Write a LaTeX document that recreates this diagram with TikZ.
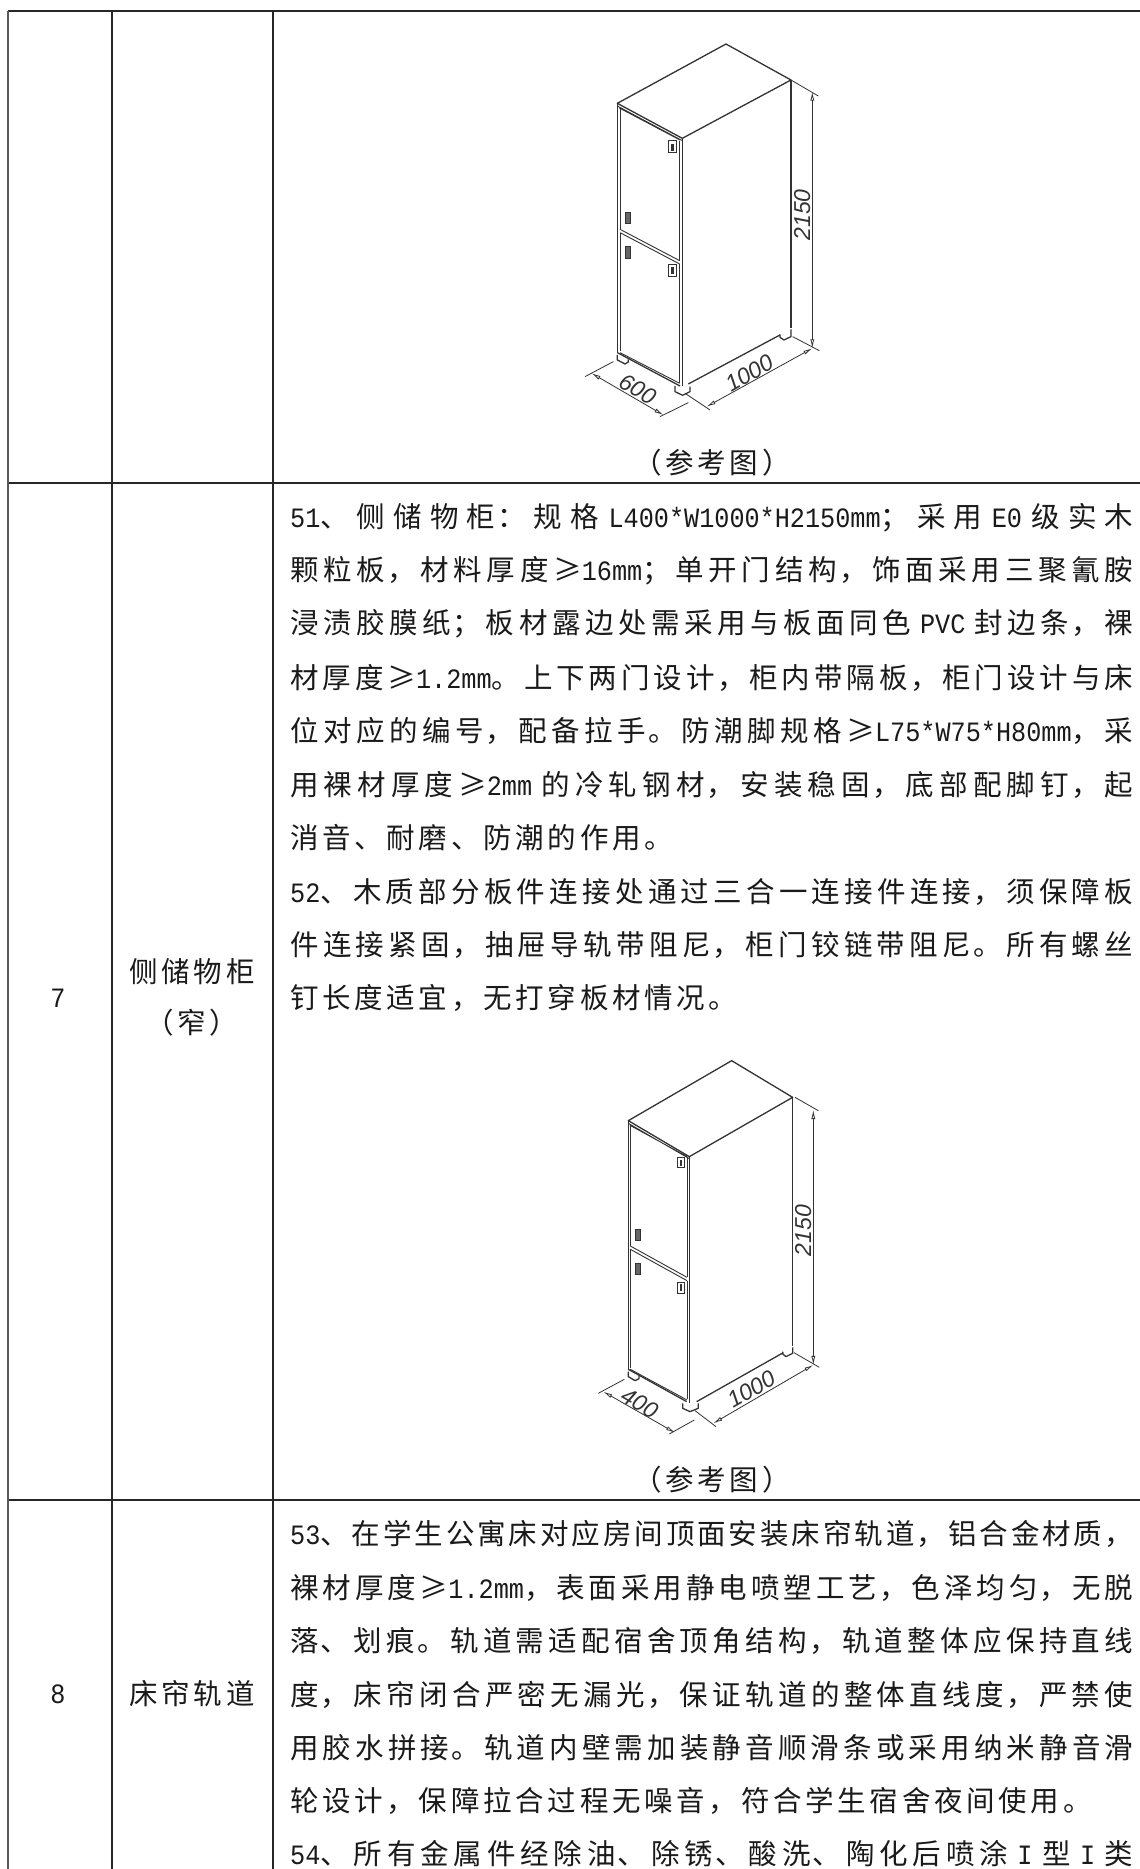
\documentclass[tikz,border=0pt]{standalone}
\usepackage{fontspec}
\usetikzlibrary{arrows.meta}
\setmainfont{Liberation Serif}
\newfontfamily\cjk[LetterSpace=8]{Noto Sans CJK SC}
\newfontfamily\cjkw[LetterSpace=13]{Noto Sans CJK SC}
\newfontfamily\ltn[FakeStretch=0.9]{Liberation Mono}
\newfontfamily\dimf{Liberation Sans}
\newcommand{\lt}[1]{{\fontsize{28}{30}\ltn #1}}
\newcommand{\jl}[1]{\parindent=0pt\leftskip=0pt\rightskip=0pt\tolerance=9999\pretolerance=-1\hbadness=10000\hfuzz=20pt\XeTeXlinebreaklocale "zh"\XeTeXlinebreakskip=0pt plus 6pt minus 1pt\parfillskip=0pt #1\par}
\definecolor{ink}{HTML}{1A1A1A}
\definecolor{cab}{HTML}{333333}
\tikzset{
 rule/.style={line width=1.5pt,color=black!85},
 edgeline/.style={line width=2.6pt,color=black!65},
 jline/.style={inner sep=0pt,anchor=west,text width=843pt,font=\fontsize{28.5}{30}\cjk,text=ink},
 nline/.style={inner sep=0pt,anchor=west,font=\fontsize{28.5}{30}\cjkw,text=ink},
 ctext/.style={inner sep=0pt,anchor=center,font=\fontsize{28.5}{30}\cjkw,text=ink},
 cabl/.style={line width=1.3pt,color=cab,line join=round},
 cabt/.style={line width=.9pt,color=cab},
 dimline/.style={line width=.8pt,color=cab,{Latex[open,length=9pt,width=4pt]}-{Latex[open,length=9pt,width=4pt]}},
 dimext/.style={line width=.8pt,color=cab},
 dimtext/.style={inner sep=0pt,font=\fontsize{23}{26}\dimf\itshape,text=cab},
 handle/.style={draw=cab,line width=.8pt,fill=cab!75},
}
\begin{document}
\begin{tikzpicture}[x=1pt,y=-1pt]
\useasboundingbox (0,0) rectangle (1140,1869);
\fill[white] (0,0) rectangle (1140,1869);
% table rules
\coordinate (tl) at (8,11); \coordinate (tr) at (1140,11);
\coordinate (al) at (8,483); \coordinate (ar) at (1140,483);
\coordinate (bl) at (8,1500); \coordinate (br) at (1140,1500);
\coordinate (el) at (8,1869);
\coordinate (c2t) at (112,11); \coordinate (c2b) at (112,1869);
\coordinate (c3t) at (273,11); \coordinate (c3b) at (273,1869);
\draw[rule] (tl)--(tr); \draw[rule] (al)--(ar); \draw[rule] (bl)--(br);
\draw[edgeline] (tl)--(el);
\draw[rule] (c2t)--(c2b); \draw[rule] (c3t)--(c3b);

% cabinet 1
\begin{scope}[shift={(560,20)},x=.3333pt,y=-.3333pt]
\draw[cabl] (172,250)--(498,72)--(693,180)--(367,355)--cycle;
\draw[cabl] (172,250)--(172,1000); \draw[cabl] (367,355)--(367,1098); \draw[cabl] (693,180)--(693,925);
\draw[cabl] (385,1092)--(660,945);
\draw[cabl] (172,998)--(360,1098);
\draw[cabt] (180,268)--(180,628) (180,638)--(180,992) (359,362)--(359,722) (359,732)--(359,1088);
\draw[cabt] (178,264)--(360,360) (172,258)--(367,362);
\draw[cabt] (180,628)--(359,722) (180,638)--(359,732);
\draw[cabt] (180,998)--(359,1090);
\draw[handle,fill=white] (326,362) rectangle (348,398); \fill[cab] (333,372) rectangle (341,392);
\draw[handle] (195,578) rectangle (212,610);
\draw[handle] (195,680) rectangle (212,714);
\draw[handle,fill=white] (326,733) rectangle (348,770); \fill[cab] (333,740) rectangle (341,762);
\draw[cabl] (172,1005)--(172,1020)--(195,1032)--(205,1026)--(205,1018);
\draw[cabl] (345,1098)--(345,1115)--(368,1126)--(390,1115)--(390,1100);
\draw[cabl] (660,943)--(660,952)--(672,960)--(693,950)--(693,928);
% dims
\coordinate (d1a) at (757,215); \coordinate (d1b) at (757,985);
\draw[dimline] (d1a)--(d1b);
\draw[dimext] (693,180)--(775,228) (698,950)--(778,992);
\node[dimtext,rotate=90] (t2150a) at (727,585) {2150};
\coordinate (d2a) at (440,1160); \coordinate (d2b) at (757,985);
\draw[dimline] (d2a)--(d2b);
\draw[dimext] (375,1120)--(450,1170);
\node[dimtext,rotate=30] (t1000a) at (568,1060) {1000};
\coordinate (d3a) at (95,1060); \coordinate (d3b) at (310,1185);
\draw[dimline] (d3a)--(d3b);
\draw[dimext] (75,1070)--(160,1025) (300,1190)--(385,1148);
\node[dimtext,rotate=-30] (t600) at (235,1108) {600};
\end{scope}

% cabinet 2
\begin{scope}[shift={(570,1040)},x=.3333pt,y=-.3333pt]
\draw[cabl] (175,242)--(485,62)--(668,172)--(358,350)--cycle;
\draw[cabl] (175,242)--(175,990); \draw[cabl] (358,350)--(358,1088); \draw[cabl] (668,172)--(668,918);
\draw[cabl] (380,1085)--(640,938);
\draw[cabl] (175,988)--(350,1085);
\draw[cabt] (181,258)--(181,618) (181,628)--(181,984) (351,350)--(351,712) (351,722)--(351,1078);
\draw[cabt] (180,256)--(352,350) (175,250)--(358,356);
\draw[cabt] (181,618)--(351,712) (181,628)--(351,722);
\draw[cabt] (181,988)--(351,1080);
\draw[handle,fill=white] (322,352) rectangle (342,382); \fill[cab] (329,360) rectangle (336,378);
\draw[handle] (197,568) rectangle (212,600);
\draw[handle] (197,670) rectangle (212,704);
\draw[handle,fill=white] (322,726) rectangle (342,760); \fill[cab] (329,732) rectangle (336,752);
\draw[cabl] (175,995)--(175,1010)--(195,1022)--(207,1016)--(207,1008);
\draw[cabl] (338,1090)--(338,1105)--(360,1115)--(385,1105)--(385,1090);
\draw[cabl] (638,935)--(638,942)--(648,950)--(668,940)--(668,922);
\coordinate (e1a) at (730,210); \coordinate (e1b) at (730,975);
\draw[dimline] (e1a)--(e1b);
\draw[dimext] (675,172)--(745,212) (672,938)--(748,982);
\node[dimtext,rotate=90] (t2150b) at (700,572) {2150};
\coordinate (e2a) at (430,1150); \coordinate (e2b) at (730,975);
\draw[dimline] (e2a)--(e2b);
\draw[dimext] (375,1112)--(438,1160);
\node[dimtext,rotate=30] (t1000b) at (545,1048) {1000};
\coordinate (e3a) at (100,1055); \coordinate (e3b) at (315,1178);
\draw[dimline] (e3a)--(e3b);
\draw[dimext] (85,1060)--(163,1018) (298,1182)--(373,1140);
\node[dimtext,rotate=-30] (t400) at (210,1090) {400};
\end{scope}

% captions
\node[ctext] (cap1) at (712,463) {（参考图）};
\node[ctext] (cap2) at (712,1480) {（参考图）};

% left columns
\node[ctext] (n7) at (58,998) {\lt{7}};
\node[ctext] (name7a) at (192,972) {侧储物柜};
\node[ctext] (name7b) at (192,1023) {（窄）};
\node[ctext] (n8) at (58,1694) {\lt{8}};
\node[ctext] (name8) at (192,1694) {床帘轨道};

% row 7
\node[jline] (a1) at (290,517.5) {\jl{\lt{51}、侧储物柜：规格 \lt{L400*W1000*H2150mm}；采用 \lt{E0} 级实木}};
\node[jline] (a2) at (290,570.5) {\jl{颗粒板，材料厚度≥\lt{16mm}；单开门结构，饰面采用三聚氰胺}};
\node[jline] (a3) at (290,624) {\jl{浸渍胶膜纸；板材露边处需采用与板面同色 \lt{PVC} 封边条，裸}};
\node[jline] (a4) at (290,677.5) {\jl{材厚度≥\lt{1.2mm}。上下两门设计，柜内带隔板，柜门设计与床}};
\node[jline] (a5) at (290,731) {\jl{位对应的编号，配备拉手。防潮脚规格≥\lt{L75*W75*H80mm}，采}};
\node[jline] (a6) at (290,784.5) {\jl{用裸材厚度≥\lt{2mm} 的冷轧钢材，安装稳固，底部配脚钉，起}};
\node[nline] (a7) at (290,838) {消音、耐磨、防潮的作用。};
\node[jline] (a8) at (290,891.5) {\jl{\lt{52}、木质部分板件连接处通过三合一连接件连接，须保障板}};
\node[jline] (a9) at (290,945) {\jl{件连接紧固，抽屉导轨带阻尼，柜门铰链带阻尼。所有螺丝}};
\node[nline] (a10) at (290,998) {钉长度适宜，无打穿板材情况。};

% row 8
\node[jline] (b1) at (290,1534) {\jl{\lt{53}、在学生公寓床对应房间顶面安装床帘轨道，铝合金材质，}};
\node[jline] (b2) at (290,1587.5) {\jl{裸材厚度≥\lt{1.2mm}，表面采用静电喷塑工艺，色泽均匀，无脱}};
\node[jline] (b3) at (290,1641) {\jl{落、划痕。轨道需适配宿舍顶角结构，轨道整体应保持直线}};
\node[jline] (b4) at (290,1694.5) {\jl{度，床帘闭合严密无漏光，保证轨道的整体直线度，严禁使}};
\node[jline] (b5) at (290,1747.5) {\jl{用胶水拼接。轨道内壁需加装静音顺滑条或采用纳米静音滑}};
\node[nline] (b6) at (290,1801) {轮设计，保障拉合过程无噪音，符合学生宿舍夜间使用。};
\node[jline] (b7) at (290,1854) {\jl{\lt{54}、所有金属件经除油、除锈、酸洗、陶化后喷涂 \lt{I} 型 \lt{I} 类}};
\end{tikzpicture}
\end{document}
